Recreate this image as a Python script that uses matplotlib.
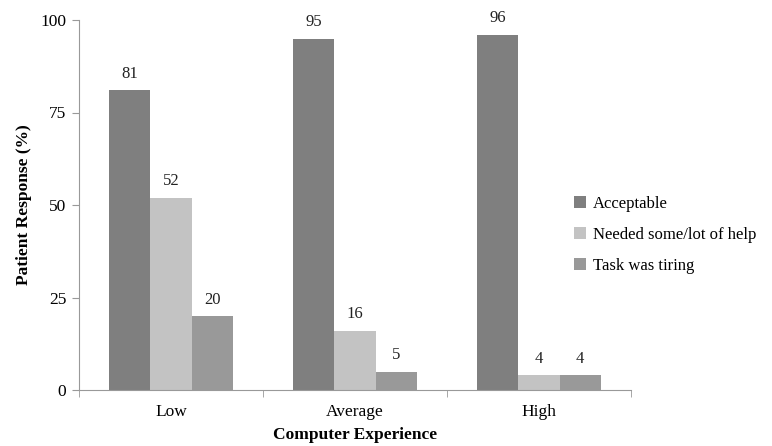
import matplotlib
matplotlib.use("Agg")
import matplotlib.pyplot as plt
import numpy as np

categories = ["Low", "Average", "High"]
series_names = ["Acceptable", "Needed some/lot of help", "Task was tiring"]
acceptable = [81, 95, 96]
needed_help = [52, 16, 4]
tiring = [20, 5, 4]
yticks = [0, 25, 50, 75, 100]

colors = ["#7f7f7f", "#c3c3c3", "#999999"]
plt.rcParams['font.family'] = ['Liberation Serif', 'DejaVu Serif']

fig = plt.figure(figsize=(7.72, 4.46), dpi=100)
ax = fig.add_axes([79/772, 1-390/446, (631-79)/772, (390-20)/446])

x = np.arange(len(categories))
w = 0.223
for i, (vals, name, c) in enumerate(zip([acceptable, needed_help, tiring], series_names, colors)):
    pos = x + (i - 1) * w
    ax.bar(pos, vals, width=w, color=c, label=name)
    for p, v in zip(pos, vals):
        ax.annotate(str(v), (p, v), xytext=(0, 6), textcoords="offset points",
                    ha="center", va="bottom", fontsize=12, color="#222222")

ax.set_xlim(-0.5, 2.5)
ax.set_ylim(0, 100)
ax.set_yticks(yticks)
ax.set_yticklabels([str(t) for t in yticks], fontsize=12.5)
ax.set_xticks(x)
ax.set_xticklabels(categories, fontsize=12.5)
ax.tick_params(axis='x', length=0, pad=10)
ax.set_xticks([-0.5, 0.5, 1.5, 2.5], minor=True)
ax.tick_params(axis='x', which='minor', length=5, color="#999999")
ax.tick_params(axis='y', length=5, color="#999999", pad=4)
for s in ["top", "right"]:
    ax.spines[s].set_visible(False)
for s in ["left", "bottom"]:
    ax.spines[s].set_color("#999999")
ax.set_ylabel("Patient Response (%)", fontsize=12.5, fontweight="bold", labelpad=6)
ax.set_xlabel("Computer Experience", fontsize=12.5, fontweight="bold", labelpad=5)

ax.legend(loc="center left", bbox_to_anchor=(0.87, 0.42), frameon=False, fontsize=12,
          handlelength=0.7, handleheight=0.7, handletextpad=0.4, labelspacing=0.9)

fig.savefig("out.png", dpi=100)
